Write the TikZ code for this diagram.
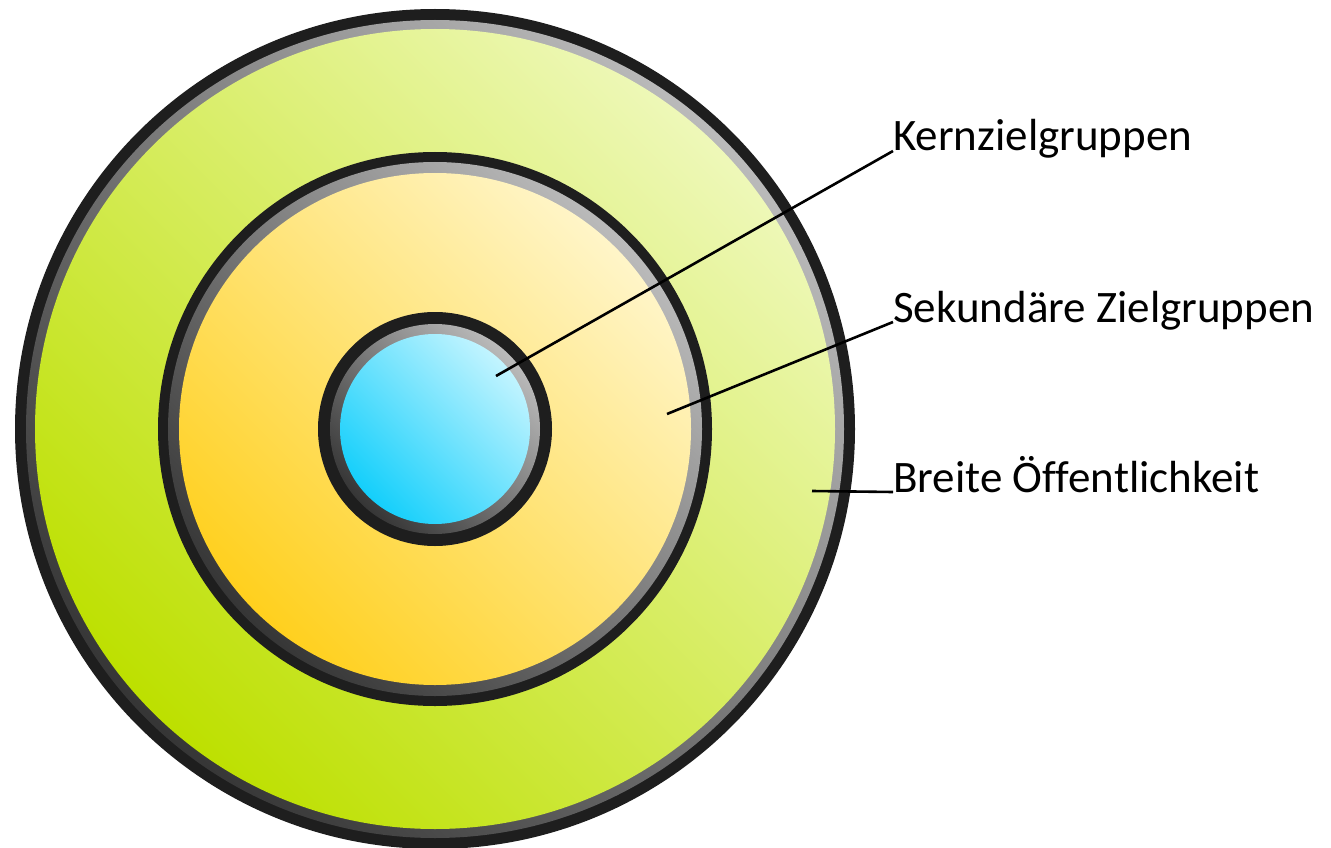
\documentclass[tikz,border=0pt]{standalone}
\usepackage{fontspec}
\setmainfont{Carlito}[Ligatures=NoCommon]
\definecolor{ringblack}{HTML}{1E1E1E}
\definecolor{graydark}{HTML}{363636}
\definecolor{graylight}{HTML}{BABABA}
\definecolor{greendark}{HTML}{BDE000}
\definecolor{greenlight}{HTML}{EEF8B8}
\definecolor{yellowdark}{HTML}{FFD01E}
\definecolor{yellowlight}{HTML}{FFF5C8}
\definecolor{bluedark}{HTML}{14CFFB}
\definecolor{bluelight}{HTML}{C2F4FF}
\tikzset{
  rimblack/.style={fill=ringblack},
  rimgray/.style={left color=graydark, right color=graylight, shading angle=135},
  greenfill/.style={left color=greendark, right color=greenlight, shading angle=135},
  yellowfill/.style={left color=yellowdark, right color=yellowlight, shading angle=135},
  bluefill/.style={left color=bluedark, right color=bluelight, shading angle=135},
  lbl/.style={inner sep=0pt, anchor=base west, font=\fontsize{45}{53}\selectfont},
  leader/.style={draw=black, line width=2.6pt}
}
\begin{document}
\begin{tikzpicture}[x=1pt,y=-1pt]
\useasboundingbox (0,0) rectangle (1331,848);
\coordinate (c) at (435,429);
% outer ring
\fill[rimblack] (c) circle[radius=420];
\shade[rimgray] (c) circle[radius=409];
\shade[greenfill] (c) circle[radius=400];
% middle ring
\fill[rimblack] (c) circle[radius=277];
\shade[rimgray] (c) circle[radius=267];
\shade[yellowfill] (c) circle[radius=256];
% inner ring
\fill[rimblack] (c) circle[radius=117];
\shade[rimgray] (c) circle[radius=105];
\shade[bluefill] (c) circle[radius=95];
% labels
\node[lbl] (kern) at (893,151) {Kernzielgruppen};
\node[lbl] (sek) at (893,322) {Sekundäre Zielgruppen};
\node[lbl] (breit) at (893,492) {Breite Öffentlichkeit};
\coordinate (pk) at (496,376);
\coordinate (ps) at (667,414);
\coordinate (pb) at (812,491);
\draw[leader] (pk) -- (kern.base west);
\draw[leader] (ps) -- (sek.base west);
\draw[leader] (pb) -- (breit.base west);
\end{tikzpicture}
\end{document}
